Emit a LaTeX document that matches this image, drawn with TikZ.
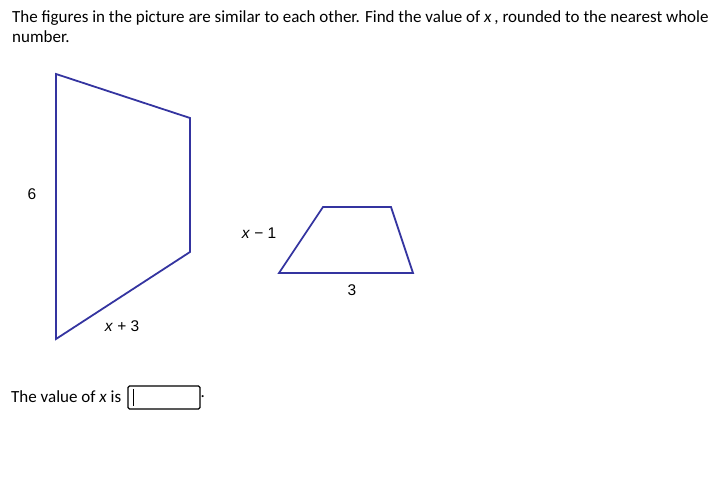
\documentclass[tikz,border=0pt]{standalone}
\usepackage{fontspec}
\setmainfont{Carlito}
\newfontfamily\lblfont{Liberation Sans}
\begin{document}
\begin{tikzpicture}[x=1pt,y=-1pt,
  shapeline/.style={draw={rgb,255:red,52;green,52;blue,160},line width=1.8pt,line join=miter},
  lbl/.style={font=\lblfont\fontsize{15.5}{18}\selectfont,inner sep=0pt},
  txt/.style={font=\fontsize{17}{20}\selectfont,inner sep=0pt,anchor=west}]
\useasboundingbox (0,0) rectangle (721,494);
\node[txt] (t1) at (12,18) {The figures in the picture are similar to each other. Find the value of \textit{x}\,, rounded to the nearest whole};
\node[txt] (t2) at (12,37) {number.};
% big quadrilateral
\coordinate (A) at (56,74);
\coordinate (B) at (190,118);
\coordinate (C) at (190,252);
\coordinate (D) at (56,339);
\draw[shapeline] (A) -- (B) -- (C) -- (D) -- cycle;
% small trapezoid
\coordinate (P) at (279,273);
\coordinate (Q) at (323,207);
\coordinate (R) at (391,207);
\coordinate (S) at (413,273);
\draw[shapeline] (P) -- (Q) -- (R) -- (S) -- cycle;
% labels
\node[lbl] (l6) at (32,194) {6};
\node[lbl] (lx3) at (122,326) {\textit{x} + 3};
\node[lbl] (lx1) at (259,233) {\textit{x} − 1};
\node[lbl] (l3) at (352,290) {3};
% answer line
\node[txt] (ans) at (11,397) {The value of \textit{x} is};
\draw[line width=1.3pt,rounded corners=1.5pt] (128,386) rectangle (200,409);
\draw[line width=0.9pt] (133,389) -- (133,406);
\node[txt] (dot) at (200.5,397) {.};
\end{tikzpicture}
\end{document}
